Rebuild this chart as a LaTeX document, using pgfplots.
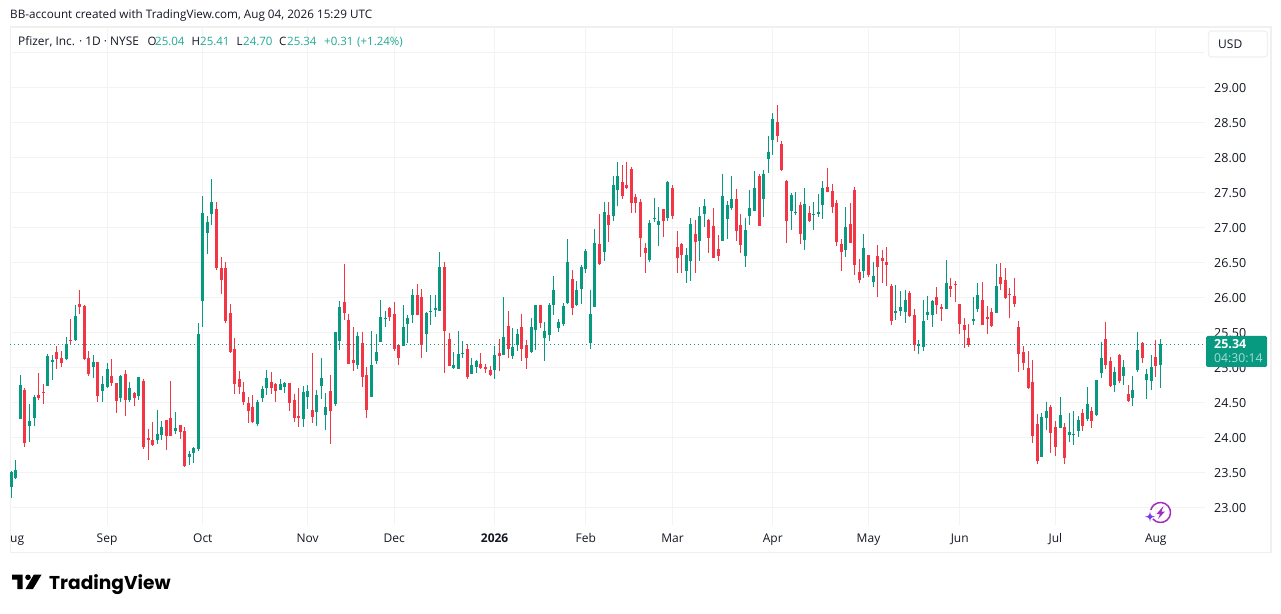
\documentclass[border=0pt]{standalone}
\usepackage{fontspec}
\setmainfont{Open Sans}
\newfontfamily\logofont{Poppins}
\usepackage{pgfplots}
\usepackage{pgfplotstable}
\pgfplotsset{compat=1.18}
\definecolor{up}{HTML}{089981}
\definecolor{lastline}{HTML}{089981}
\definecolor{down}{HTML}{F23645}
\definecolor{gridc}{HTML}{F3F3F4}
\definecolor{framec}{HTML}{F0F0F1}
\definecolor{ink}{HTML}{131722}
\definecolor{hdrval}{HTML}{22AB94}
\definecolor{purp}{HTML}{A22BC2}
\definecolor{spark}{HTML}{7A3CF0}
\pgfplotstableread{
o h l c
23.29 23.52 23.13 23.50
23.42 23.68 23.40 23.53
24.26 24.89 24.26 24.75
24.68 24.70 23.87 23.92
24.16 24.48 23.94 24.23
24.28 24.60 24.16 24.58
24.60 24.92 24.53 24.56
24.65 24.76 24.48 24.63
24.73 25.19 24.73 25.16
25.08 25.18 24.82 25.11
25.22 25.31 24.98 25.12
25.13 25.23 25.00 25.06
25.12 25.43 25.11 25.33
25.39 25.69 25.32 25.38
25.39 25.89 25.38 25.73
25.90 26.10 25.76 25.86
25.88 25.89 25.11 25.12
25.13 25.23 24.88 24.90
25.00 25.18 24.85 25.08
25.08 25.08 24.51 24.59
24.66 24.88 24.51 24.76
24.72 25.06 24.70 24.98
24.88 25.12 24.73 24.78
24.78 24.78 24.35 24.52
24.56 24.89 24.51 24.88
24.90 24.96 24.31 24.53
24.53 24.79 24.51 24.70
24.63 24.65 24.45 24.56
24.59 24.86 24.53 24.86
24.80 24.83 23.83 23.86
23.99 24.12 23.68 23.96
23.96 24.22 23.88 23.89
23.96 24.39 23.90 24.05
24.03 24.23 23.96 24.15
24.25 24.25 23.82 24.02
24.28 24.80 24.02 24.02
24.09 24.36 24.05 24.13
24.18 24.18 23.98 24.08
24.09 24.15 23.58 23.59
23.72 23.80 23.60 23.76
23.78 23.86 23.63 23.85
23.83 25.63 23.80 25.48
25.95 27.45 25.58 27.20
26.92 27.16 26.62 27.08
27.19 27.69 27.03 27.36
27.26 27.36 26.39 26.42
26.42 26.58 26.05 26.25
26.42 26.50 25.63 25.66
25.78 25.90 25.20 25.22
25.26 25.42 24.62 24.76
24.83 24.95 24.62 24.72
24.65 24.79 24.47 24.50
24.49 24.58 24.21 24.38
24.43 24.60 24.21 24.22
24.19 24.53 24.16 24.50
24.56 24.73 24.50 24.69
24.71 24.96 24.60 24.85
24.79 24.93 24.62 24.71
24.76 24.78 24.50 24.66
24.68 24.83 24.68 24.76
24.72 24.79 24.63 24.78
24.78 24.78 24.38 24.49
24.53 24.62 24.22 24.28
24.30 24.70 24.15 24.28
24.26 24.73 24.15 24.65
24.58 24.75 24.40 24.66
24.39 25.20 24.21 24.29
24.36 24.68 24.16 24.60
24.73 25.13 24.55 24.85
24.32 24.63 24.10 24.43
24.66 24.89 23.90 24.38
24.48 25.50 24.45 25.50
25.38 25.95 25.25 25.86
25.93 26.48 25.68 25.78
25.68 25.76 25.05 25.05
25.10 25.58 24.95 25.06
25.03 25.50 24.98 25.45
25.35 25.50 24.72 24.86
24.89 25.00 24.28 24.39
24.58 25.52 24.58 25.03
25.09 25.48 25.05 25.22
25.36 25.96 25.36 25.72
25.69 25.80 25.58 25.71
25.85 25.86 25.66 25.72
25.76 25.93 25.23 25.26
25.32 25.33 25.03 25.13
25.30 25.89 25.30 25.58
25.62 25.75 25.35 25.70
25.75 26.12 25.63 26.03
26.03 26.19 25.75 25.75
26.00 26.12 25.13 25.32
25.48 25.79 25.22 25.78
25.79 26.03 25.60 25.80
25.82 26.03 25.72 25.85
25.80 26.65 25.80 26.43
26.43 26.50 24.92 25.52
25.40 25.49 25.02 25.02
24.99 25.22 24.98 25.03
24.98 25.52 24.98 25.19
25.19 25.38 25.13 25.20
25.26 25.33 24.83 24.86
24.90 25.13 24.90 25.03
25.00 25.10 24.92 25.09
25.05 25.20 24.98 24.99
25.00 25.05 24.92 24.98
24.96 25.02 24.88 24.89
24.96 25.30 24.83 25.18
25.20 25.41 24.95 25.16
25.18 26.00 25.18 25.43
25.59 25.80 25.13 25.26
25.16 25.56 25.12 25.29
25.32 25.55 25.24 25.48
25.58 25.76 25.09 25.26
25.32 25.39 24.98 25.13
25.22 25.70 25.20 25.58
25.53 25.89 25.25 25.89
25.89 25.89 25.56 25.63
25.42 25.65 25.09 25.52
25.46 25.92 25.38 25.89
25.89 26.30 25.75 26.10
25.56 25.69 25.50 25.65
25.62 25.92 25.59 25.88
25.92 26.83 25.90 26.50
26.26 26.39 25.75 25.85
25.89 26.23 25.88 26.10
26.12 26.46 25.90 26.43
26.40 26.69 26.35 26.66
25.35 26.10 25.26 25.76
25.86 26.98 25.86 26.78
26.76 27.19 26.46 26.48
26.65 27.36 26.52 27.22
27.18 27.36 26.79 27.03
27.16 27.73 27.09 27.61
27.53 27.93 27.30 27.73
27.65 27.89 27.40 27.45
27.61 27.93 27.55 27.56
27.83 27.86 27.20 27.35
27.43 27.48 27.20 27.35
27.36 27.40 26.58 26.85
26.70 26.78 26.35 26.63
26.53 27.10 26.50 27.06
27.12 27.42 27.08 27.13
27.03 27.29 26.73 27.09
27.26 27.26 26.86 27.09
27.13 27.66 27.09 27.65
27.56 27.60 27.12 27.16
26.72 26.95 26.35 26.56
26.76 26.78 26.35 26.60
26.38 26.70 26.20 26.60
26.52 27.13 26.23 27.05
26.90 27.10 26.35 26.79
26.80 27.29 26.52 27.16
27.19 27.40 27.00 27.30
27.10 27.12 26.63 26.85
27.02 27.28 26.56 26.56
26.69 26.89 26.52 26.59
26.80 27.76 26.80 27.45
27.12 27.38 26.83 27.32
27.28 27.73 27.25 27.40
27.40 27.55 26.80 26.95
27.03 27.19 26.63 26.75
26.59 27.13 26.43 26.96
27.16 27.53 27.03 27.28
27.23 27.80 27.23 27.56
27.73 27.76 27.02 27.02
27.40 27.82 27.15 27.76
27.98 28.30 27.78 28.08
28.25 28.63 28.03 28.55
28.50 28.75 28.22 28.30
28.19 28.23 27.80 27.82
27.66 27.68 26.78 27.09
27.23 27.49 26.96 27.46
27.20 27.50 27.18 27.22
27.32 27.36 26.76 26.90
26.82 27.56 26.68 27.33
27.20 27.30 27.08 27.09
27.18 27.36 26.96 27.19
27.19 27.48 27.15 27.22
27.32 27.66 27.12 27.56
27.58 27.85 27.50 27.50
27.52 27.62 27.20 27.29
27.35 27.39 26.73 26.79
26.76 26.83 26.38 26.65
26.68 27.29 26.58 27.00
27.05 27.35 26.78 26.78
27.53 27.58 26.32 26.46
26.36 26.55 26.20 26.25
26.38 26.90 26.28 26.70
26.60 26.60 26.29 26.32
26.22 26.50 26.15 26.30
26.59 26.75 26.00 26.43
26.56 26.68 26.20 26.52
26.50 26.72 26.16 26.46
26.16 26.19 25.60 25.66
25.78 26.18 25.68 25.80
25.80 26.09 25.73 25.86
25.79 26.10 25.63 25.96
26.06 26.09 25.72 25.73
25.75 25.83 25.23 25.32
25.31 25.39 25.19 25.33
25.29 25.96 25.23 25.66
25.75 26.02 25.68 25.79
25.75 25.96 25.58 25.95
26.00 26.15 25.76 25.89
25.86 25.90 25.66 25.83
25.83 26.53 25.83 26.20
26.16 26.28 26.00 26.12
26.19 26.23 25.93 26.18
25.90 25.90 25.48 25.62
25.60 25.70 25.28 25.53
25.42 25.62 25.29 25.32
25.66 26.00 25.60 25.69
25.83 26.20 25.79 26.03
25.96 26.22 25.60 25.60
25.72 25.88 25.48 25.69
25.79 25.85 25.58 25.59
25.78 26.48 25.78 26.16
26.29 26.49 26.10 26.19
26.25 26.42 25.98 25.99
26.05 26.13 25.70 26.03
26.02 26.28 25.86 25.90
25.58 25.66 24.93 25.19
25.22 25.30 24.96 25.06
24.99 25.23 24.69 24.70
24.79 25.10 23.92 24.02
24.19 24.33 23.62 23.66
23.72 24.35 23.72 24.29
24.28 24.50 24.10 24.38
24.43 24.46 23.78 24.06
24.15 24.23 23.73 23.86
24.13 24.58 24.13 24.32
24.15 24.20 23.62 23.70
24.03 24.35 23.93 24.08
24.03 24.38 23.89 24.05
24.09 24.30 24.00 24.25
24.35 24.40 24.09 24.16
24.26 24.72 24.23 24.48
24.38 24.43 24.13 24.23
24.32 24.82 24.30 24.82
24.92 25.36 24.85 25.13
25.40 25.65 24.98 25.03
25.09 25.15 24.72 24.73
24.75 25.00 24.65 24.93
25.18 25.19 24.78 24.80
24.88 25.10 24.75 25.00
24.62 24.75 24.50 24.52
24.56 24.88 24.45 24.68
24.96 25.50 24.93 25.25
25.35 25.36 25.06 25.13
24.82 24.98 24.55 24.90
24.80 25.18 24.68 25.00
25.15 25.39 24.86 25.02
25.04 25.41 24.70 25.34
}\candles
\begin{document}
\begin{tikzpicture}[x=1pt,y=1pt]
\useasboundingbox (0,0) rectangle (1281,613);
\fill[white] (0,0) rectangle (1281,613);
\begin{scope}[y=-1pt,yshift=613pt]
\draw[framec,line width=1.6pt] (10.5,27) rectangle (1271,552.5);
\end{scope}
\begin{axis}[
  at={(10pt,88pt)},anchor=south west,
  scale only axis,width=1195pt,height=498pt,
  xmin=-0.285,xmax=261.8,ymin=22.75,ymax=29.864,
  axis line style={draw=none},
  major tick length=0pt,
  grid=major,
  major grid style={gridc,line width=1pt},
  xtick={21,42,65,84,106,126,145,167,188,208,229,251},
  xticklabels={Sep,Oct,Nov,Dec,\textbf{2026},Feb,Mar,Apr,May,Jun,Jul,Aug},
  ytick={23,23.5,24,24.5,25,25.5,26,26.5,27,27.5,28,28.5,29},
  extra y ticks={29.5},extra y tick labels={},
  ytick pos=right,yticklabel pos=right,
  tick label style={font=\fontsize{12}{14}\selectfont,text=ink},
  xticklabel style={inner sep=0pt,anchor=base,yshift=-17pt},
  yticklabel style={inner sep=0pt,anchor=west,xshift=9pt,yshift=-0.6pt,font=\fontsize{12.5}{14}\selectfont,
    /pgf/number format/.cd,fixed,fixed zerofill,precision=2,assume math mode=true},
  clip=true,
]
% wicks
\addplot[draw=none,mark=none,forget plot,restrict expr to domain={\thisrow{c}-\thisrow{o}}{0:100},
  error bars/.cd,y dir=both,y explicit,error mark=none,error bar style={up,line width=1pt}]
  table[x expr=\coordindex,y=c,y error plus expr=\thisrow{h}-\thisrow{c},y error minus expr=\thisrow{c}-\thisrow{l}] {\candles};
\addplot[draw=none,mark=none,forget plot,restrict expr to domain={\thisrow{o}-\thisrow{c}}{0.0001:100},
  error bars/.cd,y dir=both,y explicit,error mark=none,error bar style={down,line width=1pt}]
  table[x expr=\coordindex,y=o,y error plus expr=\thisrow{h}-\thisrow{o},y error minus expr=\thisrow{o}-\thisrow{l}] {\candles};
% bodies
\addplot[draw=none,mark=none,forget plot,restrict expr to domain={\thisrow{c}-\thisrow{o}}{0:100},
  error bars/.cd,y dir=minus,y explicit,error mark=none,error bar style={up,line width=3pt}]
  table[x expr=\coordindex,y=c,y error minus expr=\thisrow{c}-\thisrow{o}] {\candles};
\addplot[draw=none,mark=none,forget plot,restrict expr to domain={\thisrow{o}-\thisrow{c}}{0.0001:100},
  error bars/.cd,y dir=minus,y explicit,error mark=none,error bar style={down,line width=3pt}]
  table[x expr=\coordindex,y=o,y error minus expr=\thisrow{o}-\thisrow{c}] {\candles};
% last price line, as read from the picture's pixel row
\addplot[draw=none,mark=none,forget plot,
  error bars/.cd,x dir=plus,x fixed=262.085,error mark=none,
  error bar style={color=lastline,line width=1.3pt,dash pattern=on 1.3pt off 2.7pt}]
  coordinates {(-0.285,25.329)};
\end{axis}
\begin{scope}[y=-1pt,yshift=613pt]
\tikzset{t/.style={anchor=base west,inner sep=0pt,text=ink,font=\fontsize{11.5}{14}\selectfont}}
\node[t,font=\fontsize{11.7}{14}\selectfont] at (10,19) {BB-account created with TradingView.com, Aug 04, 2026 15:29 UTC};
\node[t,font=\fontsize{11.9}{14}\selectfont] at (18,45.5) {Pfizer, Inc. · 1D · NYSE};
\node[t] at (147.5,45.5) {O};
\node[t,text=hdrval] at (155,45.5) {25.04};
\node[t] at (191.5,45.5) {H};
\node[t,text=hdrval] at (200,45.5) {25.41};
\node[t] at (236.5,45.5) {L};
\node[t,text=hdrval] at (243,45.5) {24.70};
\node[t] at (279,45.5) {C};
\node[t,text=hdrval] at (287,45.5) {25.34};
\node[t,text=hdrval] at (324,45.5) {+0.31};
\node[t,text=hdrval] at (357,45.5) {(+1.24\%)};
% Aug clipped
\node[t,font=\fontsize{12}{14}\selectfont] at (10,542.5) {ug};
% USD
\draw[framec,line width=1.2pt,fill=white,rounded corners=3pt] (1208.5,31) rectangle (1267.5,57);
\node[t,font=\fontsize{12}{14}\selectfont] at (1218,48.3) {USD};
% last price tag
\fill[up,rounded corners=1.5pt] (1206,336) rectangle (1267,367);
\node[t,text=white,font=\fontsize{12.5}{14}\selectfont\bfseries] at (1214,349) {25.34};
\node[t,text=white!65!up,font=\fontsize{12.2}{14}\selectfont] at (1214,363) {04:30:14};
% icon
\draw[purp,line width=1.5pt] (1152.84,518.93) arc[start angle=140,end angle=-165,radius=10];
\fill[purp] (1163.5,506) -- (1156.5,514) -- (1160,514) -- (1158,519) -- (1165,511.5) -- (1161.5,511.5) -- cycle;
\fill[spark] (1150,511.5) .. controls (1150.5,515) and (1151,516) .. (1155,516.7) .. controls (1151,517.4) and (1150.5,518) .. (1150,522) .. controls (1149.5,518) and (1149,517.4) .. (1145,516.7) .. controls (1149,516) and (1149.5,515) .. (1150,511.5) -- cycle;
% logo
\fill[black] (12,574.7) -- (22.7,574.7) -- (22.7,589) -- (17.3,589) -- (17.3,579.6) -- (12,579.6) -- cycle;
\fill[black] (28,577.3) circle (2.8);
\fill[black] (33.8,574.7) -- (41.5,574.7) -- (33,589) -- (25.5,589) -- cycle;
\node[anchor=base west,inner sep=0pt,text=black,font=\logofont\bfseries\fontsize{18.6}{24}\selectfont] at (49,589) {TradingView};
\end{scope}
\end{tikzpicture}
\end{document}
